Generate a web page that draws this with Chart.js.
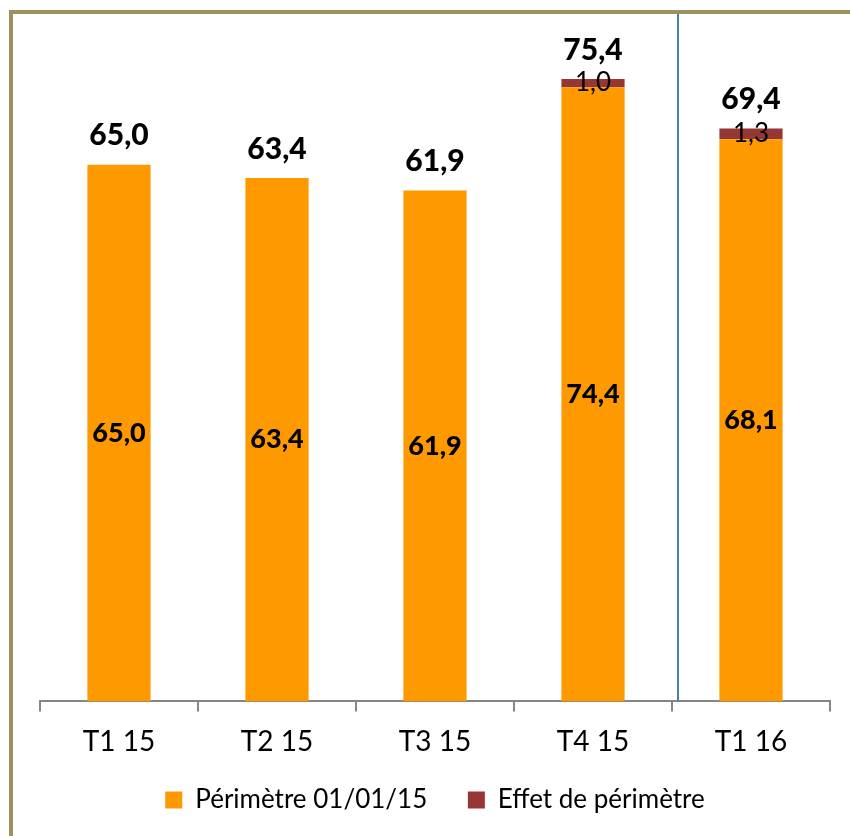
<!DOCTYPE html>
<html>
<head>
<meta charset="utf-8">
<script src="https://cdn.jsdelivr.net/npm/chart.js@4.4.1/dist/chart.umd.min.js"></script>
<style>
  html, body { margin: 0; padding: 0; background: #fff; }
  #wrap { position: relative; width: 850px; height: 836px; overflow: hidden; }
  #frame { position: absolute; left: 9px; top: 10px; right: -10px; bottom: -10px;
           border-left: 4px solid #9C915F; border-top: 4px solid #9C915F; pointer-events: none; }
  canvas { position: absolute; left: 0; top: 0; }
</style>
</head>
<body>
<div id="wrap">
  <canvas id="myChart" width="850" height="836"></canvas>
  <div id="frame"></div>
</div>
<script>
const categories = ["T1 15", "T2 15", "T3 15", "T4 15", "T1 16"];
const perimetre = [65.0, 63.4, 61.9, 74.4, 68.1];
const effet = [0, 0, 0, 1.0, 1.3];
const totals = [65.0, 63.4, 61.9, 75.4, 69.4];

const fmt = (v) => v.toFixed(1).replace(".", ",");

// value labels + separator between 2015 and 2016
const labelPlugin = {
  id: "valueLabels",
  afterDatasetsDraw(chart) {
    const ctx = chart.ctx;
    const m0 = chart.getDatasetMeta(0);
    const m1 = chart.getDatasetMeta(1);
    ctx.save();
    ctx.textAlign = "center";
    ctx.textBaseline = "middle";
    ctx.fillStyle = "#000";
    m0.data.forEach((bar, i) => {
      ctx.font = "900 27px Lato";
      ctx.fillText(fmt(perimetre[i]), bar.x, (bar.y + bar.base) / 2);
      let top = bar.y;
      if (effet[i] > 0) {
        const b1 = m1.data[i];
        ctx.font = "26px Lato";
        ctx.fillText(fmt(effet[i]), b1.x, (b1.y + b1.base) / 2);
        top = b1.y;
      }
      ctx.font = "900 30px Lato";
      ctx.fillText(fmt(totals[i]), bar.x, top - 29);
    });
    const xs = chart.scales.x;
    const sx = (xs.getPixelForValue(3) + xs.getPixelForValue(4)) / 2 + 6;
    ctx.strokeStyle = "#4A7EBB";
    ctx.lineWidth = 2;
    ctx.beginPath();
    ctx.moveTo(sx, 14);
    ctx.lineTo(sx, chart.chartArea.bottom);
    ctx.stroke();
    ctx.restore();
  },
};

ctx = document.getElementById("myChart").getContext("2d");
myChart = new Chart(ctx, {
  type: "bar",
  data: {
    labels: categories,
    datasets: [
      {
        label: "Périmètre 01/01/15",
        data: perimetre,
        backgroundColor: "#FF9900",
        categoryPercentage: 1,
        barPercentage: 0.4,
      },
      {
        label: "Effet de périmètre",
        data: effet,
        backgroundColor: "#953735",
        categoryPercentage: 1,
        barPercentage: 0.4,
      },
    ],
  },
  options: {
    responsive: false,
    animation: false,
    layout: { padding: { left: 40, right: 20, top: 41, bottom: 13 } },
    scales: {
      x: {
        stacked: true,
        grid: { drawOnChartArea: false, tickLength: 10, color: "#868686", lineWidth: 2 },
        border: { color: "#868686", width: 2 },
        ticks: { font: { family: "Lato", size: 28 }, color: "#000", padding: 14 },
      },
      y: {
        stacked: true,
        display: false,
        min: 0,
        max: 80,
      },
    },
    plugins: {
      tooltip: { enabled: false },
      legend: {
        position: "bottom",
        labels: {
          font: { family: "Lato", size: 26 },
          color: "#000",
          boxWidth: 17,
          boxHeight: 17,
          padding: 14,
          generateLabels(chart) {
            const items = Chart.defaults.plugins.legend.labels.generateLabels(chart);
            items[0].text += "    ";
            return items;
          },
        },
      },
    },
  },
  plugins: [labelPlugin],
});
</script>
</body>
</html>
